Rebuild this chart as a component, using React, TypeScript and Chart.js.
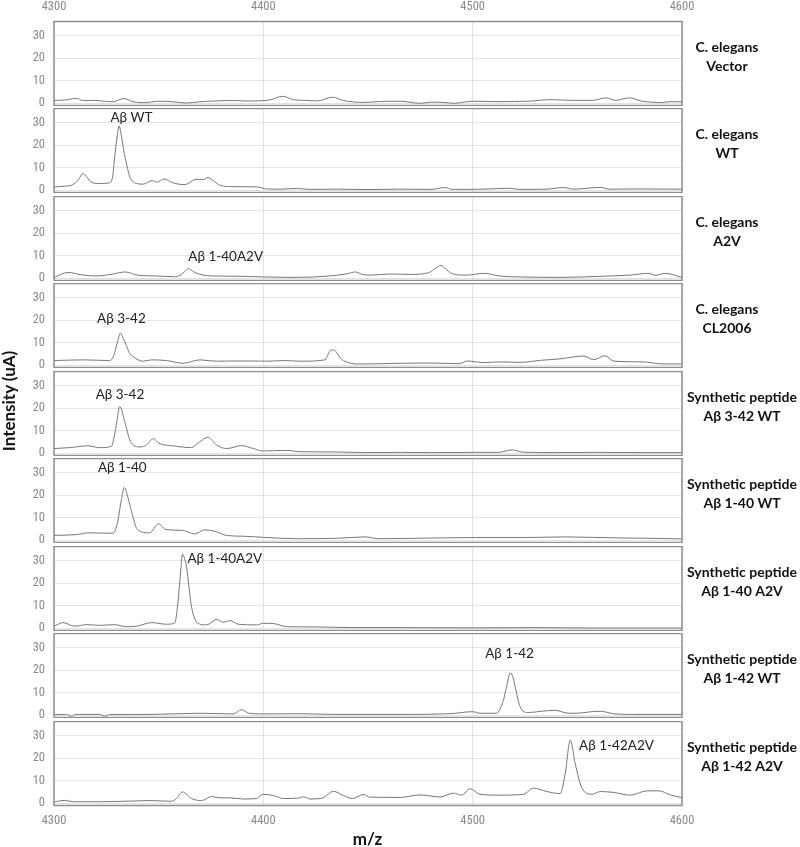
import React, { useEffect, useRef } from "react";
import { Chart, registerables } from "chart.js";

Chart.register(...registerables);

// ---------- data ----------
const X_TICKS = [4300, 4400, 4500, 4600];
const Y_TICKS = [0, 10, 20, 30];
const X_MIN = 4300;
const X_MAX = 4600;
const Y_MIN = -1.2;
const Y_MAX = 36.4;

const SAMPLE_NAMES: string[][] = [
  ["C. elegans", "Vector"],
  ["C. elegans", "WT"],
  ["C. elegans", "A2V"],
  ["C. elegans", "CL2006"],
  ["Synthetic peptide", "Aβ 3-42 WT"],
  ["Synthetic peptide", "Aβ 1-40 WT"],
  ["Synthetic peptide", "Aβ 1-40 A2V"],
  ["Synthetic peptide", "Aβ 1-42 WT"],
  ["Synthetic peptide", "Aβ 1-42 A2V"],
];

type Pt = [number, number];

const TRACE_VECTOR: Pt[] = [
  [4300, 1.3], [4306, 1.5], [4310.4, 2.2], [4314, 1.2], [4319.5, 1.3], [4324, 0.9], [4328.2, 0.7],
  [4333.3, 2.1], [4337.8, 0.7], [4344.2, 0.3], [4349, 0.9], [4356.9, 0.7], [4363.3, 0.1], [4369.7, 0.7],
  [4377, 1.0], [4385.6, 1.2], [4393, 1.0], [4400, 1.2], [4403.2, 1.5], [4409.3, 3.1], [4414.4, 1.6],
  [4420, 1.3], [4425.5, 1.0], [4433.2, 2.7], [4438.3, 1.2], [4447.8, 0.4], [4456, 0.8], [4465.4, 0.9],
  [4474.9, 0.0], [4480, 0.5], [4486, 0.4], [4490.8, 0.0], [4500, 0.9], [4507, 0.8], [4513.6, 0.7],
  [4520, 0.8], [4526.3, 0.9], [4537, 1.6], [4547.5, 1.3], [4557, 1.3], [4563.9, 2.4], [4568.2, 1.3],
  [4574.9, 2.4], [4581, 0.9], [4586, 0.5], [4590.6, 0.3], [4593.8, 0.7], [4600, 0.7],
];

const TRACE_CE_WT: Pt[] = [
  [4300, 1.5], [4305, 1.8], [4309, 2.5], [4311.5, 4.5], [4313.9, 7.4], [4316, 5.5], [4317.5, 3.7],
  [4321.8, 3.0], [4326.6, 3.3], [4328, 6], [4329, 14.9], [4330.2, 24], [4331.1, 28.5], [4332.2, 24],
  [4333.3, 17.8], [4334.8, 11], [4336.2, 6], [4339.4, 3.0], [4342.6, 2.7], [4346.9, 4.3], [4349.3, 3.6],
  [4352.6, 5.0], [4356.9, 3.3], [4362.5, 2.5], [4368.1, 4.9], [4371, 4.7], [4373.7, 5.6], [4376.5, 4],
  [4379.3, 2.2], [4385.6, 1.6], [4396.8, 1.5], [4401.6, 0.6], [4408, 0.5], [4415.8, 0.8], [4422, 0.4],
  [4435, 0.5], [4450, 0.3], [4465, 0.5], [4480, 0.4], [4486.8, 1.2], [4490, 0.4], [4505, 0.5],
  [4517.9, 0.9], [4522, 0.4], [4535, 0.5], [4543.4, 1.2], [4548, 0.5], [4561.4, 1.3], [4565, 0.5],
  [4580, 0.6], [4600, 0.5],
];

const TRACE_CE_A2V: Pt[] = [
  [4300, 0.4], [4306.8, 2.6], [4312.6, 1.6], [4320, 1.0], [4328.2, 1.9], [4334, 2.8], [4339.9, 1.4],
  [4349.6, 1.0], [4357.4, 0.7], [4360.3, 1.4], [4362.5, 3], [4364.2, 4.3], [4366.5, 3], [4369.1, 1.9],
  [4376.8, 1.0], [4388.5, 0.9], [4400.2, 0.6], [4415.8, 0.4], [4431.3, 1.0], [4440, 2], [4444, 2.8],
  [4447, 1.8], [4450.8, 1.4], [4460.5, 1.9], [4470.2, 1.7], [4479, 2.5], [4482.5, 4.5], [4484.8, 5.7],
  [4487.5, 3.8], [4490.7, 1.9], [4497.5, 1.4], [4505.3, 2.2], [4513, 1.0], [4522.8, 0.6], [4542.2, 0.4],
  [4561.7, 0.9], [4575, 1.4], [4584, 2.2], [4587.5, 1.3], [4591.8, 2.2], [4600, 0.4],
];

const TRACE_CE_CL2006: Pt[] = [
  [4300, 2.1], [4313.9, 2.4], [4326.6, 2.1], [4328, 3.2], [4329, 5.7], [4330.5, 11], [4331.7, 14.3],
  [4333, 12], [4334.6, 8.7], [4336, 5.5], [4337.8, 3.8], [4342.6, 1.8], [4346.6, 2.4], [4353.7, 2.1],
  [4361.7, 0.9], [4369.7, 2.4], [4377.7, 1.8], [4385.6, 1.9], [4395.2, 1.9], [4401.6, 1.8], [4409.6, 2.1],
  [4417.5, 1.8], [4429.5, 2.4], [4431, 5], [4432.4, 6.8], [4434, 6.5], [4435.1, 5.7], [4436.5, 3.5],
  [4438.3, 2.1], [4444.7, 0.6], [4449.4, 0.6], [4465.4, 0.9], [4480, 1.0], [4493.6, 0.7], [4497.5, 1.9],
  [4505, 1.2], [4513, 1.5], [4522.8, 1.3], [4532.5, 2.2], [4542.2, 2.9], [4552.9, 4.1], [4557.8, 2.5],
  [4563.2, 4.2], [4567.5, 1.8], [4581.1, 1.5], [4590.9, 0.6], [4600, 0.6],
];

const TRACE_SYN_3_42: Pt[] = [
  [4300, 2.1], [4307.5, 2.5], [4316.3, 3.3], [4321.8, 2.5], [4327.4, 3.1], [4329.5, 11], [4331.4, 20.7],
  [4333.8, 13.9], [4336.5, 5.3], [4341, 2.8], [4344.2, 3.6], [4347.4, 6.5], [4350.2, 4.4], [4356.9, 3.3],
  [4365.7, 2.5], [4368.1, 4.0], [4373.7, 7.1], [4377.7, 3.6], [4382.5, 2.1], [4389.6, 3.4], [4395.2, 2.1],
  [4400, 1.0], [4411.2, 1.3], [4417.5, 0.7], [4433.5, 0.6], [4449.4, 0.3], [4465.4, 0.4], [4480, 0.3],
  [4500, 0.4], [4512, 0.4], [4518.9, 1.5], [4524, 0.5], [4540, 0.3], [4560, 0.4], [4580, 0.3], [4600, 0.3],
];

const TRACE_SYN_1_40: Pt[] = [
  [4300, 2.2], [4310.7, 2.5], [4316.5, 3.3], [4328.2, 3.1], [4330.5, 8.4], [4332, 17], [4333.7, 23.3],
  [4335.3, 19], [4337, 12.9], [4339.9, 4.7], [4345.7, 3.3], [4350, 7.3], [4353.5, 4.7], [4361.3, 4.4],
  [4367.1, 2.8], [4372, 4.6], [4376.8, 4.0], [4382.7, 2.1], [4390.5, 1.8], [4400.2, 1.3], [4415.8, 0.7],
  [4435.2, 0.9], [4448.8, 1.5], [4454.7, 0.7], [4474.1, 0.9], [4501.4, 1.2], [4522.8, 1.2], [4544.2, 1.5],
  [4571.4, 1.0], [4585, 0.9], [4600, 0.6],
];

const TRACE_SYN_1_40_A2V: Pt[] = [
  [4300, 0.9], [4304.3, 2.5], [4309.9, 0.9], [4315.5, 1.6], [4321.8, 1.3], [4329, 1.6], [4334.6, 0.7],
  [4339.4, 0.9], [4346.6, 2.5], [4353.7, 1.8], [4357.7, 2.4], [4359.3, 12.4], [4360.4, 24], [4361.4, 32.9],
  [4362.3, 31], [4363.3, 27.3], [4364.5, 18], [4365.7, 9.5], [4368.9, 2.1], [4372.9, 1.5], [4377.7, 3.9],
  [4380.9, 2.7], [4384.1, 3.4], [4388, 1.8], [4396.8, 1.5], [4400, 2.2], [4404.8, 2.1], [4411.2, 0.7],
  [4425.5, 0.6], [4441.5, 0.3], [4465.4, 0.3], [4500, 0.2], [4530, 0.3], [4560, 0.1], [4600, 0.1],
];

const TRACE_SYN_1_42: Pt[] = [
  [4300, 0.3], [4305.9, 0.4], [4308.3, -0.4], [4310.5, 0.4], [4321.8, 0.4], [4324.2, -0.4], [4326.5, 0.3],
  [4345.8, 0.4], [4369.7, 0.9], [4385.6, 0.6], [4389.6, 2.5], [4392.8, 1.0], [4400, 0.6], [4417.5, 0.7],
  [4433.5, 0.4], [4465.4, 0.4], [4489.2, 0.7], [4500, 1.6], [4503.5, 0.9], [4511.5, 0.9], [4513.2, 3],
  [4514.7, 6.7], [4516.3, 13], [4517.9, 18.8], [4519.2, 17], [4520.3, 12.6], [4522.7, 3.7], [4526.6, 1.2],
  [4533, 1.8], [4539.4, 2.2], [4545, 1.0], [4549.8, 0.9], [4555.8, 1.5], [4561, 1.8], [4567.3, 0.7],
  [4576.9, 0.4], [4600, 0.4],
];

const TRACE_SYN_1_42_A2V: Pt[] = [
  [4300, 0.6], [4305.1, 1.3], [4309.1, 0.7], [4321.8, 0.7], [4337.8, 1.0], [4345.8, 1.2], [4356.1, 0.9],
  [4358.5, 2.1], [4361.4, 5.0], [4365.7, 2.1], [4370.5, 1.2], [4375.3, 3.0], [4379.3, 2.4], [4384.1, 2.4],
  [4390.4, 1.9], [4396.8, 2.1], [4400, 4.0], [4404.8, 3.4], [4409.6, 2.1], [4417.5, 2.4], [4419, 2.9],
  [4422.3, 1.9], [4427.9, 2.2], [4433.5, 5.3], [4438.3, 3.4], [4442.6, 2.1], [4447.8, 3.9], [4451, 2.7],
  [4465.4, 2.6], [4474.9, 3.7], [4484.4, 2.8], [4490.8, 4.5], [4494.8, 3.6], [4498.8, 6.4], [4503.5, 4.0],
  [4513.1, 3.6], [4524.3, 4.0], [4529, 6.7], [4535.4, 5.2], [4541.8, 4.3], [4544.2, 13], [4546.6, 27.9],
  [4549, 17.5], [4552.2, 6.7], [4557, 4.0], [4561, 5.2], [4567.3, 4.8], [4575.3, 3.6], [4583.3, 5.5],
  [4588.9, 5.5], [4594.5, 3.7], [4600, 2.5],
];

const TRACES: Pt[][] = [
  TRACE_VECTOR, TRACE_CE_WT, TRACE_CE_A2V, TRACE_CE_CL2006,
  TRACE_SYN_3_42, TRACE_SYN_1_40, TRACE_SYN_1_40_A2V, TRACE_SYN_1_42, TRACE_SYN_1_42_A2V,
];

// peak annotations: [panel index, m/z, intensity, text]
const PEAK_LABELS: [number, number, number, string][] = [
  [1, 4337, 32.2, "Aβ WT"],
  [2, 4382, 9.4, "Aβ 1-40A2V"],
  [3, 4332.2, 20.8, "Aβ 3-42"],
  [4, 4331.5, 26.0, "Aβ 3-42"],
  [5, 4332.6, 32, "Aβ 1-40"],
  [6, 4381.6, 30.9, "Aβ 1-40A2V"],
  [7, 4517.6, 27.2, "Aβ 1-42"],
  [8, 4568.7, 25.4, "Aβ 1-42A2V"],
];

// ---------- layout ----------
const PANEL_TOP0 = 20.6;
const PANEL_PITCH = 87.55;
const PANEL_H = 85;
const AXIS_LEFT = 54;
const CANVAS_W = 700;
const PLOT_RIGHT = 682;
const TOP_AXIS_H = 21;
const BOTTOM_AXIS_H = 30;
const TICK_FONT = "'Liberation Sans Narrow', 'Roboto Condensed', 'DejaVu Sans Condensed', Roboto, sans-serif";
const TEXT_FONT = "Lato, 'Liberation Sans', sans-serif";

const panelTop = (i: number) => Math.round(PANEL_TOP0 + i * PANEL_PITCH);

const framePlugin = {
  id: "frame",
  afterDraw(chart: any) {
    const { ctx, chartArea } = chart;
    ctx.save();
    ctx.strokeStyle = "#8e8e8e";
    ctx.lineWidth = 1.5;
    ctx.strokeRect(chartArea.left, chartArea.top + 0.5, chartArea.right - chartArea.left, chartArea.bottom - chartArea.top - 1);
    ctx.restore();
  },
};

function Panel({ index }: { index: number }) {
  const ref = useRef<HTMLCanvasElement | null>(null);
  const showTop = index === 0;
  const showBottom = index === TRACES.length - 1;
  const top = panelTop(index) - (showTop ? TOP_AXIS_H : 0);
  const height = PANEL_H + (showTop ? TOP_AXIS_H : 0) + (showBottom ? BOTTOM_AXIS_H : 0);

  useEffect(() => {
    if (!ref.current) return;
    const labels = PEAK_LABELS.filter((p) => p[0] === index);
    const annotationPlugin = {
      id: "peakLabels",
      afterDatasetsDraw(chart: any) {
        const { ctx, scales } = chart;
        ctx.save();
        ctx.font = `13.5px ${TEXT_FONT}`;
        ctx.fillStyle = "#222";
        ctx.textAlign = "center";
        ctx.textBaseline = "middle";
        labels.forEach(([, mz, v, text]) => {
          ctx.fillText(text, scales.x.getPixelForValue(mz), scales.y.getPixelForValue(v));
        });
        ctx.restore();
      },
    };
    const chart = new Chart(ref.current, {
      type: "line",
      data: {
        datasets: [
          {
            data: TRACES[index].map(([x, y]) => ({ x, y })),
            borderColor: "#777777",
            borderWidth: 1,
            pointRadius: 0,
            cubicInterpolationMode: "monotone",
            fill: false,
          },
        ],
      },
      options: {
        responsive: false,
        animation: false,
        events: [],
        layout: { padding: { left: 0, right: CANVAS_W - PLOT_RIGHT, top: 0, bottom: 0 }, autoPadding: false },
        plugins: { legend: { display: false }, tooltip: { enabled: false } },
        scales: {
          x: {
            type: "linear",
            min: X_MIN,
            max: X_MAX,
            position: showTop ? "top" : "bottom",
            afterBuildTicks: (s: any) => {
              s.ticks = X_TICKS.map((v) => ({ value: v }));
            },
            afterFit: (s: any) => {
              s.height = showTop ? TOP_AXIS_H : showBottom ? BOTTOM_AXIS_H : 0;
              s.paddingLeft = 0;
              s.paddingRight = 0;
            },
            ticks: {
              display: showTop || showBottom,
              color: "#8a8a8a",
              font: { family: TICK_FONT, size: 12.5 },
              padding: 7,
              maxRotation: 0,
              autoSkip: false,
              callback: (v: any) => String(v),
            },
            grid: { color: "#e3e3e3", drawTicks: false, lineWidth: 1 },
            border: { display: false },
          },
          y: {
            type: "linear",
            min: Y_MIN,
            max: Y_MAX,
            afterBuildTicks: (s: any) => {
              s.ticks = Y_TICKS.map((v) => ({ value: v }));
            },
            afterFit: (s: any) => {
              s.width = AXIS_LEFT;
              s.paddingTop = 0;
              s.paddingBottom = 0;
            },
            ticks: {
              color: "#8a8a8a",
              font: { family: TICK_FONT, size: 12.5 },
              padding: 9,
              callback: (v: any) => String(v),
            },
            grid: { color: "#e3e3e3", drawTicks: false, lineWidth: 1 },
            border: { display: false },
          },
        },
      } as any,
      plugins: [framePlugin, annotationPlugin],
    });
    return () => chart.destroy();
  }, [index]);

  return (
    <canvas
      ref={ref}
      width={CANVAS_W}
      height={height}
      style={{ position: "absolute", left: 0, top, width: CANVAS_W, height }}
    />
  );
}

export default function App() {
  return (
    <div style={{ position: "absolute", left: 0, top: 0, width: 800, height: 847, background: "#fff", overflow: "hidden" }}>
      {TRACES.map((_, i) => (
        <Panel key={i} index={i} />
      ))}
      {SAMPLE_NAMES.map((lines, i) => {
        const cx = i < 4 ? 727 : 742;
        return (
          <div
            key={"lab" + i}
            style={{
              position: "absolute",
              left: cx - 70,
              width: 140,
              top: panelTop(i) + 26.5 - 9.2,
              textAlign: "center",
              fontFamily: TEXT_FONT,
              fontWeight: 700,
              fontSize: 14,
              lineHeight: "18.4px",
              color: "#111",
              whiteSpace: "nowrap",
            }}
          >
            {lines.map((l, j) => (
              <div key={j}>{l}</div>
            ))}
          </div>
        );
      })}
      <div
        style={{
          position: "absolute",
          left: 9 - 80,
          top: 400.5 - 11,
          width: 160,
          height: 22,
          lineHeight: "22px",
          textAlign: "center",
          transform: "rotate(-90deg)",
          fontFamily: TEXT_FONT,
          fontWeight: 700,
          fontSize: 17,
          color: "#111",
        }}
      >
        Intensity (uA)
      </div>
      <div
        style={{
          position: "absolute",
          left: 367.5 - 40,
          top: 839 - 11,
          width: 80,
          height: 22,
          lineHeight: "22px",
          textAlign: "center",
          fontFamily: TEXT_FONT,
          fontWeight: 700,
          fontSize: 17,
          color: "#111",
        }}
      >
        m/z
      </div>
    </div>
  );
}
